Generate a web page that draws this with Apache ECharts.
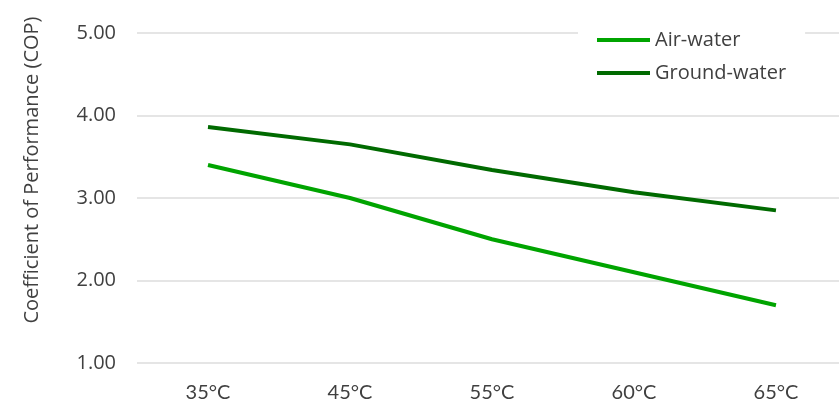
<!DOCTYPE html>
<html>
<head>
<meta charset="utf-8">
<script src="https://cdn.jsdelivr.net/npm/echarts@6/dist/echarts.min.js"></script>
<style>
  html, body { margin: 0; padding: 0; background: #fff; }
  #chart { width: 839px; height: 403px; }
</style>
</head>
<body>
<div id="chart"></div>
<script>
const temperatures = ['35°C', '45°C', '55°C', '60°C', '65°C']
const airWater = [3.40, 3.00, 2.50, 2.10, 1.70]
const groundWater = [3.86, 3.65, 3.34, 3.07, 2.85]
const yTicks = { min: 1, max: 5, interval: 1 }

const textColor = '#404040'
const font = 'Open Sans'

// the original plot runs a little past the right edge, so the
// category slots are placed on a value axis cut off at the right
const xIndex = temperatures.map((t, i) => i)
const pairs = arr => arr.map((v, i) => [xIndex[i], v])

const chart = echarts.init(document.getElementById('chart'))

const option = {
  animation: false,
  backgroundColor: '#ffffff',
  textStyle: { fontFamily: font, color: textColor },
  grid: { left: 137, top: 33, right: 0, bottom: 39 },
  legend: {
    orient: 'vertical',
    left: 578,
    top: 22,
    padding: [8, 19, 8, 19],
    backgroundColor: '#ffffff',
    itemWidth: 53,
    itemHeight: 4,
    itemGap: 13,
    icon: 'rect',
    textStyle: { fontFamily: font, fontSize: 20, color: textColor },
    data: ['Air-water', 'Ground-water']
  },
  graphic: [
    {
      type: 'text',
      x: 32,
      y: 170,
      rotation: Math.PI / 2,
      style: {
        text: 'Coefficient of Performance (COP)',
        font: '20px "Open Sans"',
        fill: textColor,
        textAlign: 'center',
        textVerticalAlign: 'middle'
      }
    }
  ],
  xAxis: {
    type: 'value',
    min: -0.5,
    max: 4.444,
    axisLine: { show: false },
    axisTick: { show: false },
    splitLine: { show: false },
    axisLabel: {
      customValues: xIndex,
      formatter: v => temperatures[Math.round(v)],
      color: textColor,
      fontSize: 20,
      fontFamily: 'Lato',
      margin: 20
    }
  },
  yAxis: {
    type: 'value',
    min: yTicks.min,
    max: yTicks.max,
    interval: yTicks.interval,
    axisLine: { show: false },
    axisTick: { show: false },
    axisLabel: {
      color: textColor,
      fontSize: 20,
      fontFamily: font,
      margin: 21,
      formatter: v => v.toFixed(2)
    },
    splitLine: { lineStyle: { color: '#dcdcdc', width: 1.5 } }
  },
  series: [
    {
      name: 'Air-water',
      type: 'line',
      data: pairs(airWater),
      symbol: 'none',
      color: '#00a400',
      lineStyle: { width: 4, color: '#00a400' }
    },
    {
      name: 'Ground-water',
      type: 'line',
      data: pairs(groundWater),
      symbol: 'none',
      color: '#006a00',
      lineStyle: { width: 4, color: '#006a00' }
    }
  ]
}

chart.setOption(option)
</script>
</body>
</html>
